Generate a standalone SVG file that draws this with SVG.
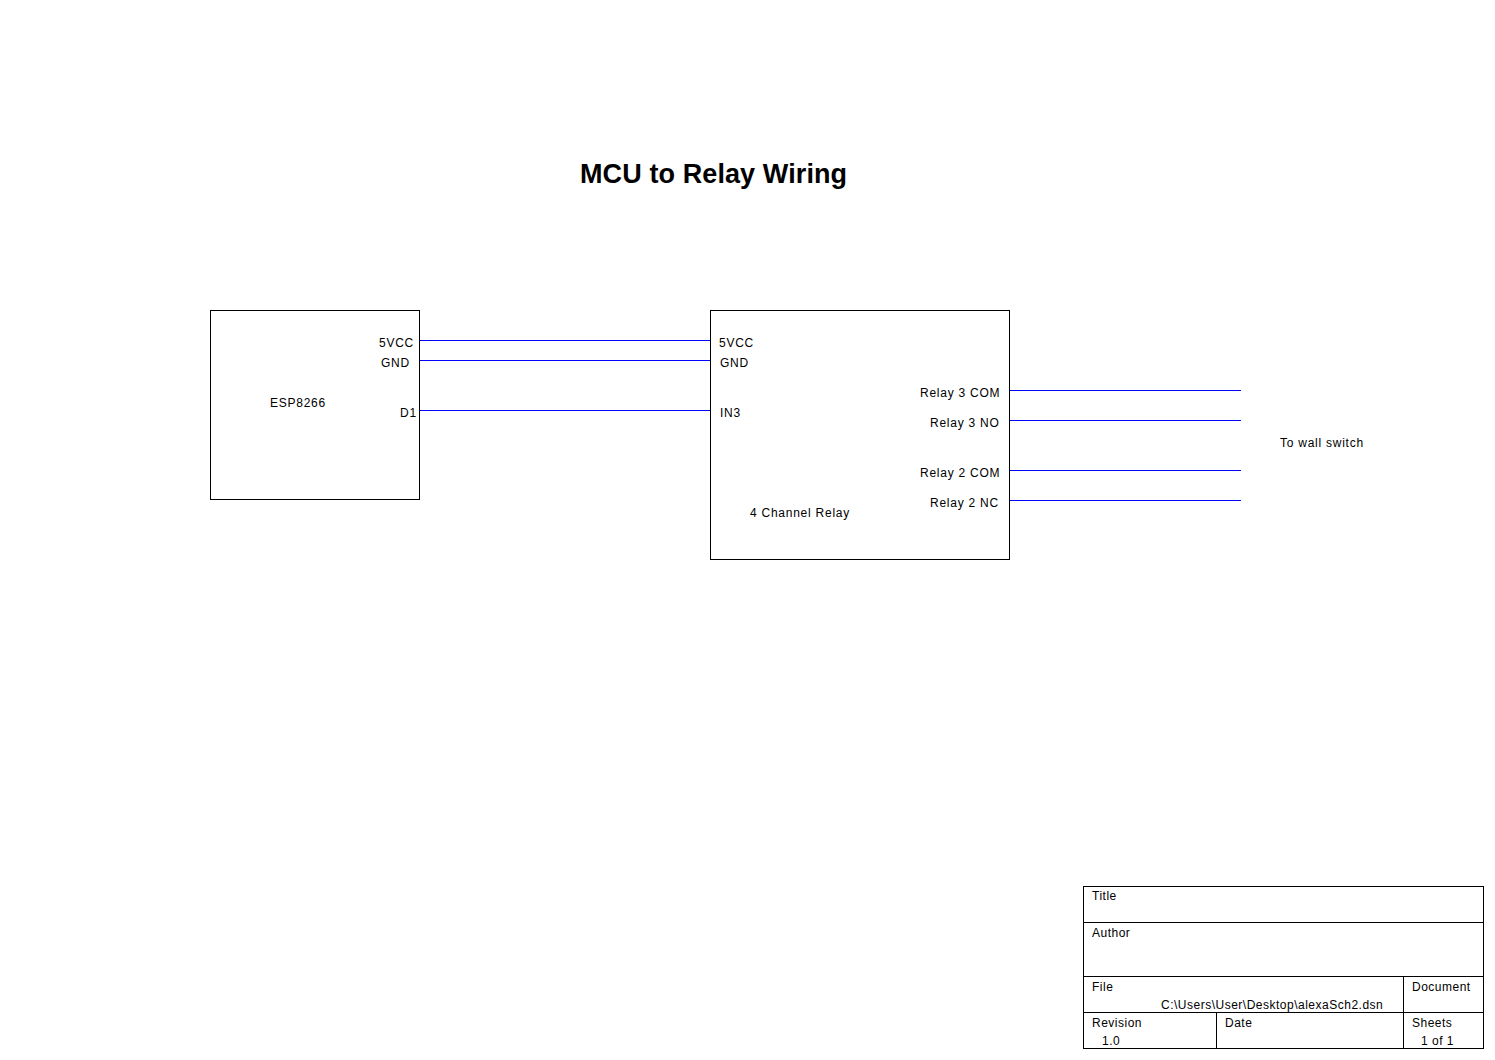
<svg xmlns="http://www.w3.org/2000/svg" width="1495" height="1060" viewBox="0 0 1495 1060">
<style>
.box{fill:none;stroke:#000;stroke-width:1}
.wire{stroke:#0000ff;stroke-width:1;fill:none}
.lbl{font-family:"Liberation Sans",Arial,sans-serif;font-size:12px;letter-spacing:0.75px;fill:#000}
.tb{font-family:"Liberation Sans",Arial,sans-serif;font-size:12px;letter-spacing:0.5px;fill:#000}
.title{font-family:"Liberation Sans",Arial,sans-serif;font-size:27px;font-weight:bold;letter-spacing:0.1px;fill:#000}
</style>
<rect width="1495" height="1060" fill="#fff"/>
<text class="title" x="580" y="183">MCU to Relay Wiring</text>
<g id="esp8266">
<rect class="box" x="210.5" y="310.5" width="209" height="189"/>
<text class="lbl" x="379" y="347">5VCC</text>
<text class="lbl" x="381" y="367">GND</text>
<text class="lbl" x="400" y="417">D1</text>
<text class="lbl" x="270" y="407">ESP8266</text>
</g>
<g id="relay">
<rect class="box" x="710.5" y="310.5" width="299" height="249"/>
<text class="lbl" x="719" y="347">5VCC</text>
<text class="lbl" x="720" y="367">GND</text>
<text class="lbl" x="720" y="417">IN3</text>
<text class="lbl" x="920" y="397">Relay 3 COM</text>
<text class="lbl" x="930" y="427">Relay 3 NO</text>
<text class="lbl" x="920" y="477">Relay 2 COM</text>
<text class="lbl" x="930" y="507">Relay 2 NC</text>
<text class="lbl" x="750" y="517">4 Channel Relay</text>
</g>
<g id="wallswitch">
<text class="lbl" x="1280" y="447">To wall switch</text>
</g>
<g id="connectors">
<line class="wire" x1="420" y1="340.5" x2="710" y2="340.5"/>
<line class="wire" x1="420" y1="360.5" x2="710" y2="360.5"/>
<line class="wire" x1="420" y1="410.5" x2="710" y2="410.5"/>
<line class="wire" x1="1010" y1="390.5" x2="1241" y2="390.5"/>
<line class="wire" x1="1010" y1="420.5" x2="1241" y2="420.5"/>
<line class="wire" x1="1010" y1="470.5" x2="1241" y2="470.5"/>
<line class="wire" x1="1010" y1="500.5" x2="1241" y2="500.5"/>
</g>
<g id="titleblock">
<rect class="box" x="1083.5" y="886.5" width="400" height="162"/>
<line class="box" x1="1083.5" y1="922.5" x2="1483.5" y2="922.5"/>
<line class="box" x1="1083.5" y1="976.5" x2="1483.5" y2="976.5"/>
<line class="box" x1="1083.5" y1="1012.5" x2="1483.5" y2="1012.5"/>
<line class="box" x1="1403.5" y1="976.5" x2="1403.5" y2="1048.5"/>
<line class="box" x1="1216.5" y1="1012.5" x2="1216.5" y2="1048.5"/>
<text class="tb" x="1092" y="900">Title</text>
<text class="tb" x="1092" y="937">Author</text>
<text class="tb" x="1092" y="991">File</text>
<text class="tb" x="1412" y="991">Document</text>
<text class="tb" x="1161" y="1009">C:\Users\User\Desktop\alexaSch2.dsn</text>
<text class="tb" x="1092" y="1027">Revision</text>
<text class="tb" x="1102" y="1045">1.0</text>
<text class="tb" x="1225" y="1027">Date</text>
<text class="tb" x="1412" y="1027">Sheets</text>
<text class="tb" x="1421" y="1045">1 of 1</text>
</g>
</svg>
